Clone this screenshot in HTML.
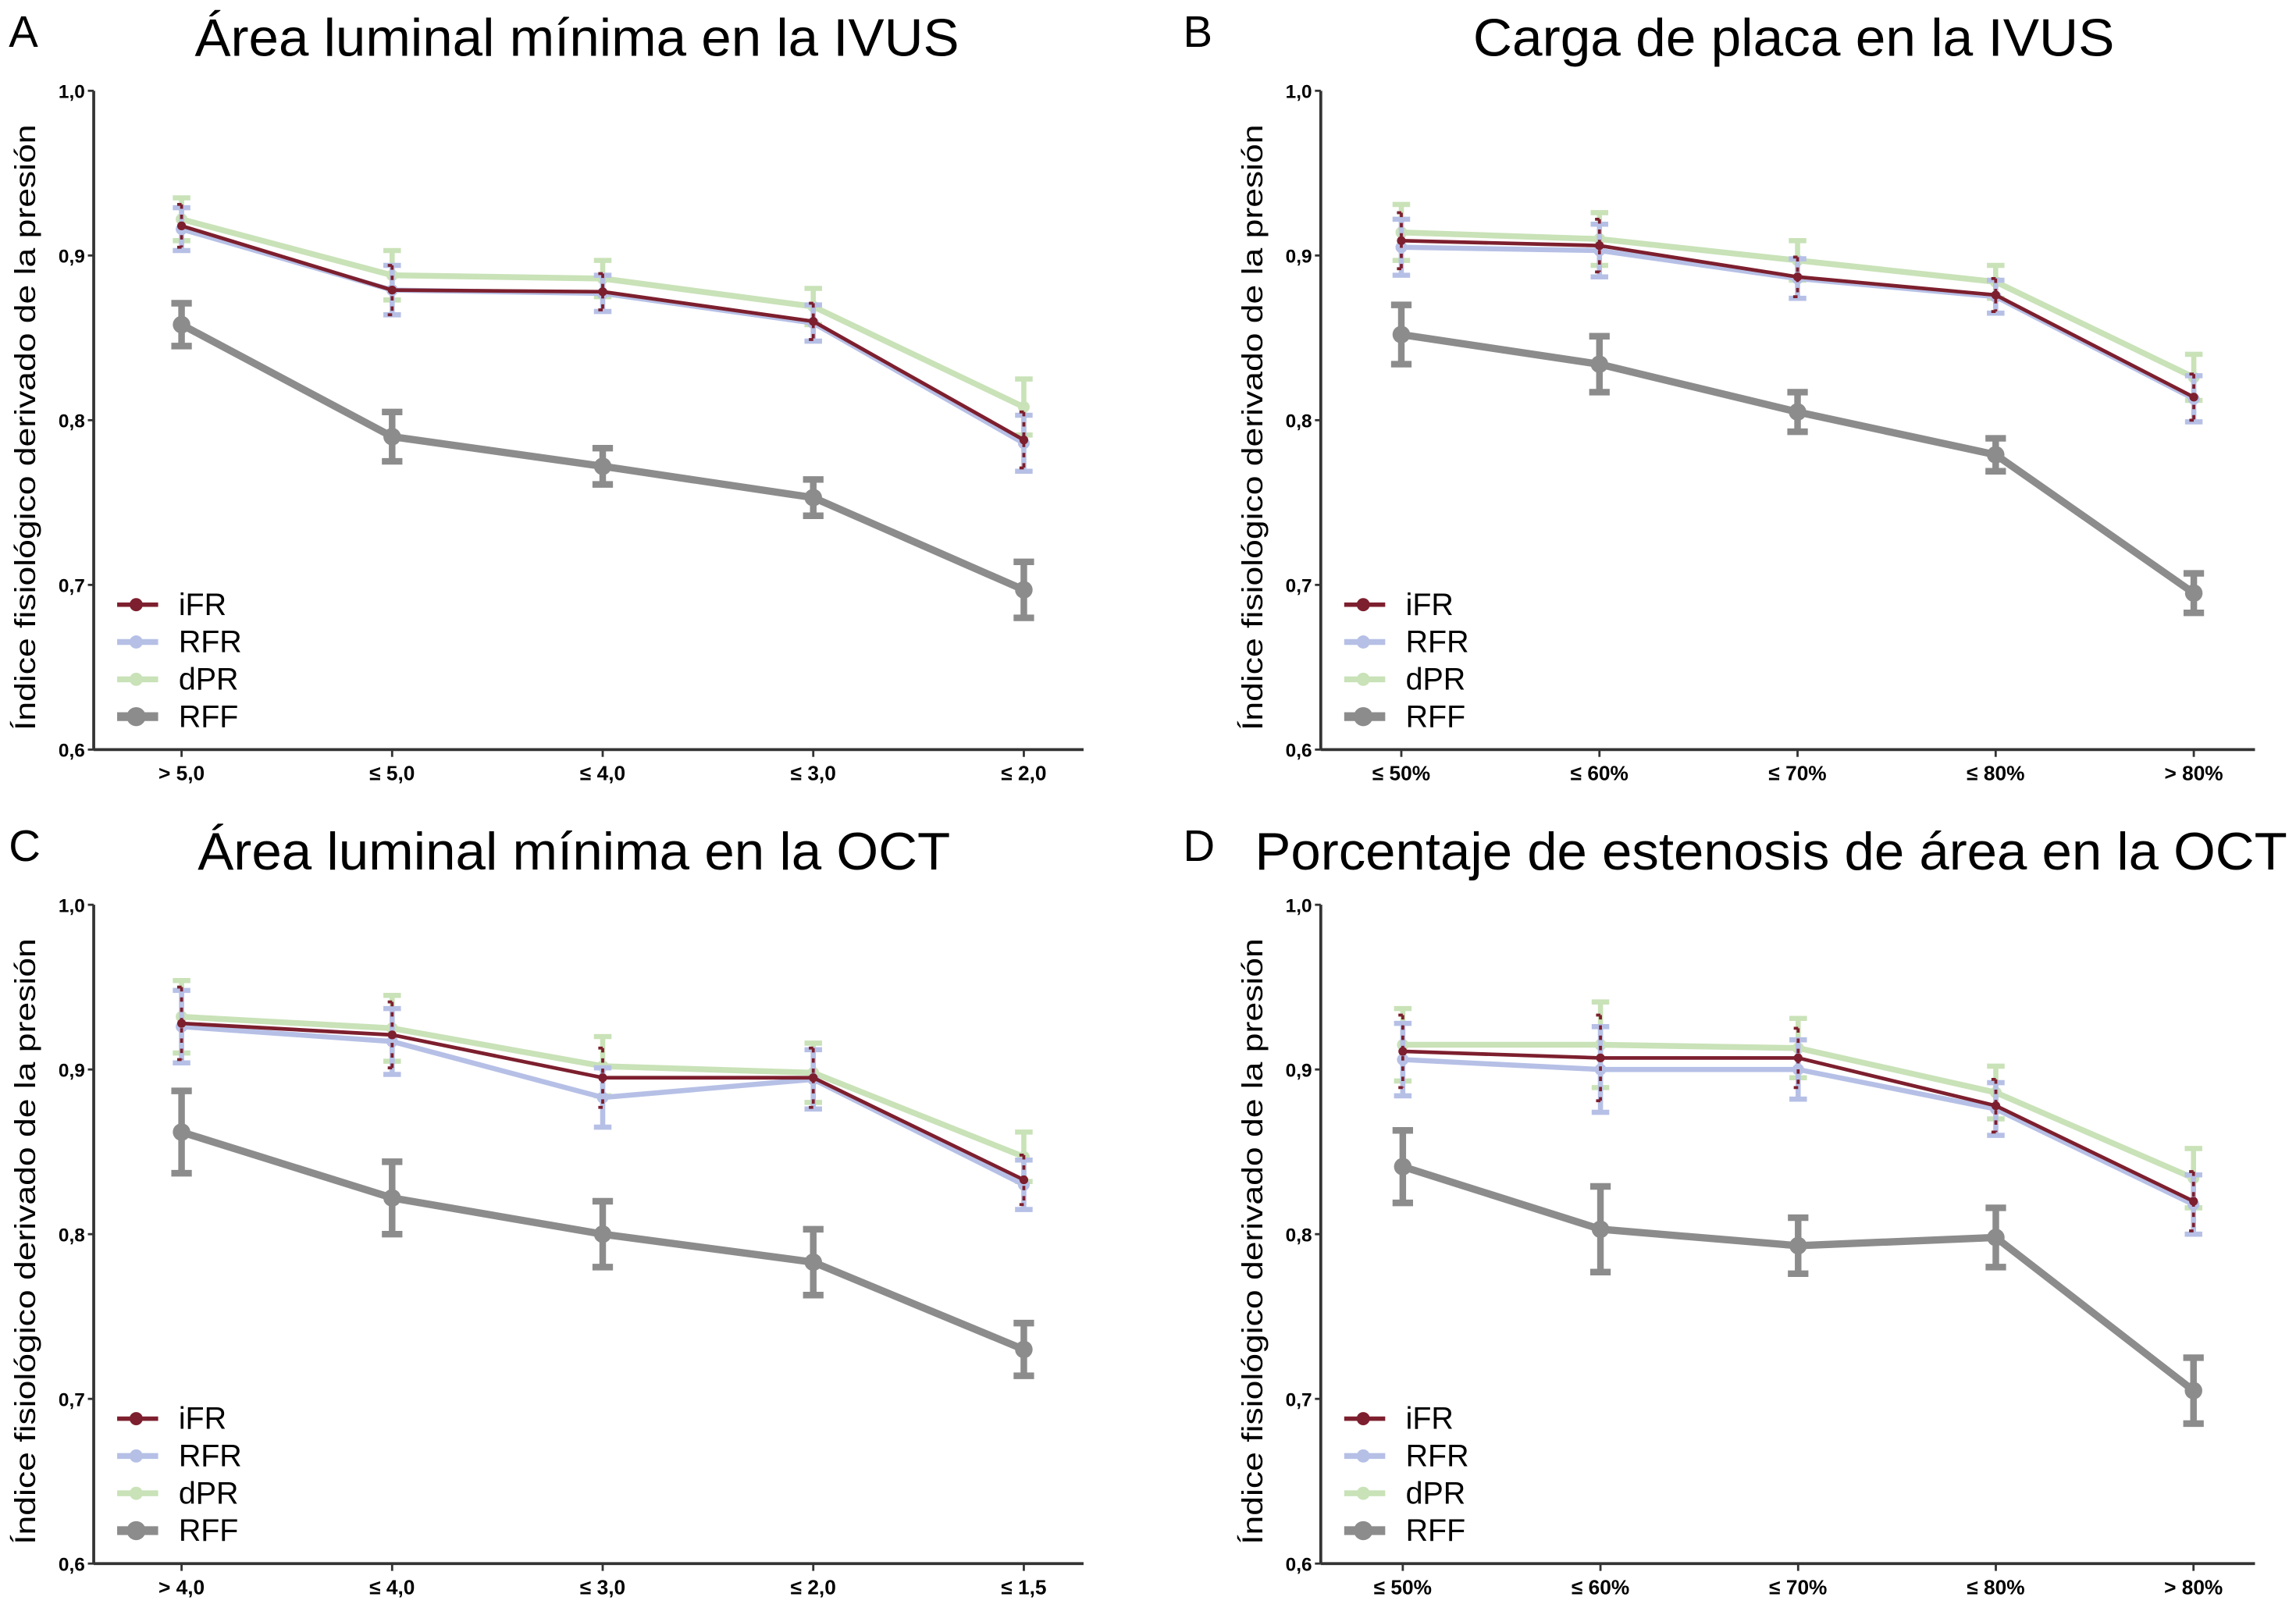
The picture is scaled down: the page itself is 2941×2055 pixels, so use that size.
<!DOCTYPE html>
<html><head><meta charset="utf-8"><style>
html,body{margin:0;padding:0;background:#fff}
svg{display:block}
text{font-family:"Liberation Sans",sans-serif}
</style></head><body>
<svg id="fig" width="2941" height="2055" viewBox="0 0 1568 1095.6" xmlns="http://www.w3.org/2000/svg"></svg>
<script>
const seriesNames = ["iFR","RFR","dPR","RFF"];
const yTicks = ["0,6","0,7","0,8","0,9","1,0"];
const yTickValues = [0.6,0.7,0.8,0.9,1.0];
const catsA = ["> 5,0","≤ 5,0","≤ 4,0","≤ 3,0","≤ 2,0"];
const catsB = ["≤ 50%","≤ 60%","≤ 70%","≤ 80%","> 80%"];
const catsC = ["> 4,0","≤ 4,0","≤ 3,0","≤ 2,0","≤ 1,5"];
const catsD = ["≤ 50%","≤ 60%","≤ 70%","≤ 80%","> 80%"];
const iFR_A = [0.918,0.879,0.878,0.860,0.788];
const RFR_A = [0.916,0.879,0.877,0.859,0.786];
const dPR_A = [0.922,0.888,0.886,0.869,0.808];
const RFF_A = [0.858,0.790,0.772,0.753,0.697];
const errA = [0.013,0.015,0.011,0.011,0.017];
const errRFF_A = [0.013,0.015,0.011,0.011,0.017];
const iFR_B = [0.909,0.906,0.887,0.876,0.814];
const RFR_B = [0.905,0.903,0.886,0.875,0.813];
const dPR_B = [0.914,0.910,0.897,0.884,0.826];
const RFF_B = [0.852,0.834,0.805,0.779,0.695];
const errA_B = [0.017,0.016,0.012,0.01,0.014];
const errRFF_B = [0.018,0.017,0.012,0.01,0.012];
const iFR_C = [0.928,0.921,0.895,0.895,0.833];
const RFR_C = [0.926,0.917,0.883,0.894,0.830];
const dPR_C = [0.932,0.925,0.902,0.898,0.847];
const RFF_C = [0.862,0.822,0.800,0.783,0.730];
const err_C = [0.022,0.02,0.018,0.018,0.015];
const errRFF_C = [0.025,0.022,0.02,0.02,0.016];
const iFR_D = [0.911,0.907,0.907,0.878,0.820];
const RFR_D = [0.906,0.900,0.900,0.876,0.818];
const dPR_D = [0.915,0.915,0.913,0.886,0.834];
const RFF_D = [0.841,0.803,0.793,0.798,0.705];
const err_D = [0.022,0.026,0.018,0.016,0.018];
const errRFF_D = [0.022,0.026,0.017,0.018,0.02];

const NS="http://www.w3.org/2000/svg";
const svg=document.getElementById('fig');
function mk(tag,attrs,parent){const e=document.createElementNS(NS,tag);for(const k in attrs)e.setAttribute(k,attrs[k]);(parent||svg).appendChild(e);return e;}
const colors={iFR:"#7d1f2e",RFR:"#b6c0e6",dPR:"#c9e2b8",RFF:"#8c8c8c"};
const widths={iFR:2.5,RFR:3.5,dPR:4,RFF:5};

const panels=[
 {id:"a",letter:"A",title:"Área luminal mínima en la IVUS",tx:394,anchor:"middle",tw:522,ax:64,top:62,bot:512,x0:124,dx:143.8,xend:740,cats:catsA,data:[iFR_A,RFR_A,dPR_A,RFF_A],err:errA,errF:errRFF_A,lx:6},
 {id:"b",letter:"B",title:"Carga de placa en la IVUS",tx:1225,anchor:"middle",tw:438,ax:902,top:62,bot:512,x0:957,dx:135.3,xend:1540,cats:catsB,data:[iFR_B,RFR_B,dPR_B,RFF_B],err:errA_B,errF:errRFF_B,lx:808},
 {id:"c",letter:"C",title:"Área luminal mínima en la OCT",tx:392,anchor:"middle",tw:514,ax:64,top:618,bot:1068,x0:124,dx:143.8,xend:740,cats:catsC,data:[iFR_C,RFR_C,dPR_C,RFF_C],err:err_C,errF:errRFF_C,lx:6},
 {id:"d",letter:"D",title:"Porcentaje de estenosis de área en la OCT",tx:857,anchor:"start",tw:705,ax:902,top:618,bot:1068,x0:958,dx:135,xend:1540,cats:catsD,data:[iFR_D,RFR_D,dPR_D,RFF_D],err:err_D,errF:errRFF_D,lx:808}
];

panels.forEach(p=>{
 const g=mk('g',{});
 
 
 const y=v=>p.bot-(v-0.6)/0.4*(p.bot-p.top);
 const x=i=>p.x0+i*p.dx;
 const L=mk('text',{x:p.lx,y:p.top-30,'font-size':30},g);L.textContent=p.letter;
 
 const T=mk('text',{x:p.tx,y:p.top-24,'font-size':36,'text-anchor':p.anchor,textLength:p.tw,lengthAdjust:'spacingAndGlyphs'},g);T.textContent=p.title;
 
 const yt=mk('text',{transform:`translate(${p.ax-40},${(p.top+p.bot)/2+5}) rotate(-90)`,'font-size':20,'text-anchor':'middle',textLength:414,lengthAdjust:'spacingAndGlyphs'},g);
 yt.textContent="Índice fisiológico derivado de la presión";
 
 const axY=mk('line',{x1:p.ax,y1:p.top,x2:p.ax,y2:p.bot,stroke:'#333','stroke-width':2},g);
 
 const axX=mk('line',{x1:p.ax,y1:p.bot,x2:p.xend,y2:p.bot,stroke:'#333','stroke-width':2},g);
 
 yTickValues.forEach((v,i)=>{
  mk('line',{x1:p.ax-4,y1:y(v),x2:p.ax,y2:y(v),stroke:'#333','stroke-width':1.5},g);
  const t=mk('text',{x:p.ax-6,y:y(v)+5,'font-size':13,'font-weight':'bold','text-anchor':'end'},g);
  t.textContent=yTicks[i];
  
 });
 p.cats.forEach((c,i)=>{
  mk('line',{x1:x(i),y1:p.bot,x2:x(i),y2:p.bot+5,stroke:'#333','stroke-width':1.5},g);
  const t=mk('text',{x:x(i),y:p.bot+21,'font-size':14,'font-weight':'bold','text-anchor':'middle'},g);
  t.textContent=c;
  
 });
 const order=[3,2,1,0];
 order.forEach(si=>{
  const name=seriesNames[si];const vals=p.data[si];const col=colors[name];const w=widths[name];
  const sg=mk('g',{},g);
  
  
  const err=name==="RFF"?p.errF:p.err;
  vals.forEach((v,i)=>{
   const e=err[i];const cw=name==="RFF"?7:(name==="iFR"?3:6);
   const attrs={d:`M${x(i)},${y(v+e)}V${y(v-e)}M${x(i)-cw},${y(v+e)}H${x(i)+cw}M${x(i)-cw},${y(v-e)}H${x(i)+cw}`,stroke:col,'stroke-width':name==="RFF"?4.5:(name==="iFR"?2:3.5),fill:'none'};
   if(name==="iFR")attrs['stroke-dasharray']='3,4';
   const eb=mk('path',attrs,sg);
   
  });
  const pl=mk('polyline',{points:vals.map((v,i)=>x(i)+','+y(v)).join(' '),stroke:col,'stroke-width':w,fill:'none','stroke-linejoin':'round'},sg);
  
  vals.forEach((v,i)=>{
   const c=mk('circle',{cx:x(i),cy:y(v),r:name==="RFF"?6:(name==="iFR"?3:4),fill:col},sg);
   
  });
 });
 const lg=mk('g',{},g);
 
 seriesNames.forEach((n,i)=>{
  const ly=p.top+351+i*25.5;
  const lx0=p.ax+16;
  const e=mk('g',{},lg);
  
  mk('line',{x1:lx0,y1:ly,x2:lx0+28,y2:ly,stroke:colors[n],'stroke-width':n==="RFF"?6:(n==="iFR"?3:4)},e);
  mk('circle',{cx:lx0+13,cy:ly,r:n==="RFF"?6.5:4.5,fill:colors[n]},e);
  const t=mk('text',{x:lx0+42,y:ly+7,'font-size':21},e);t.textContent=n;
 });
});
</script>
</body></html>
